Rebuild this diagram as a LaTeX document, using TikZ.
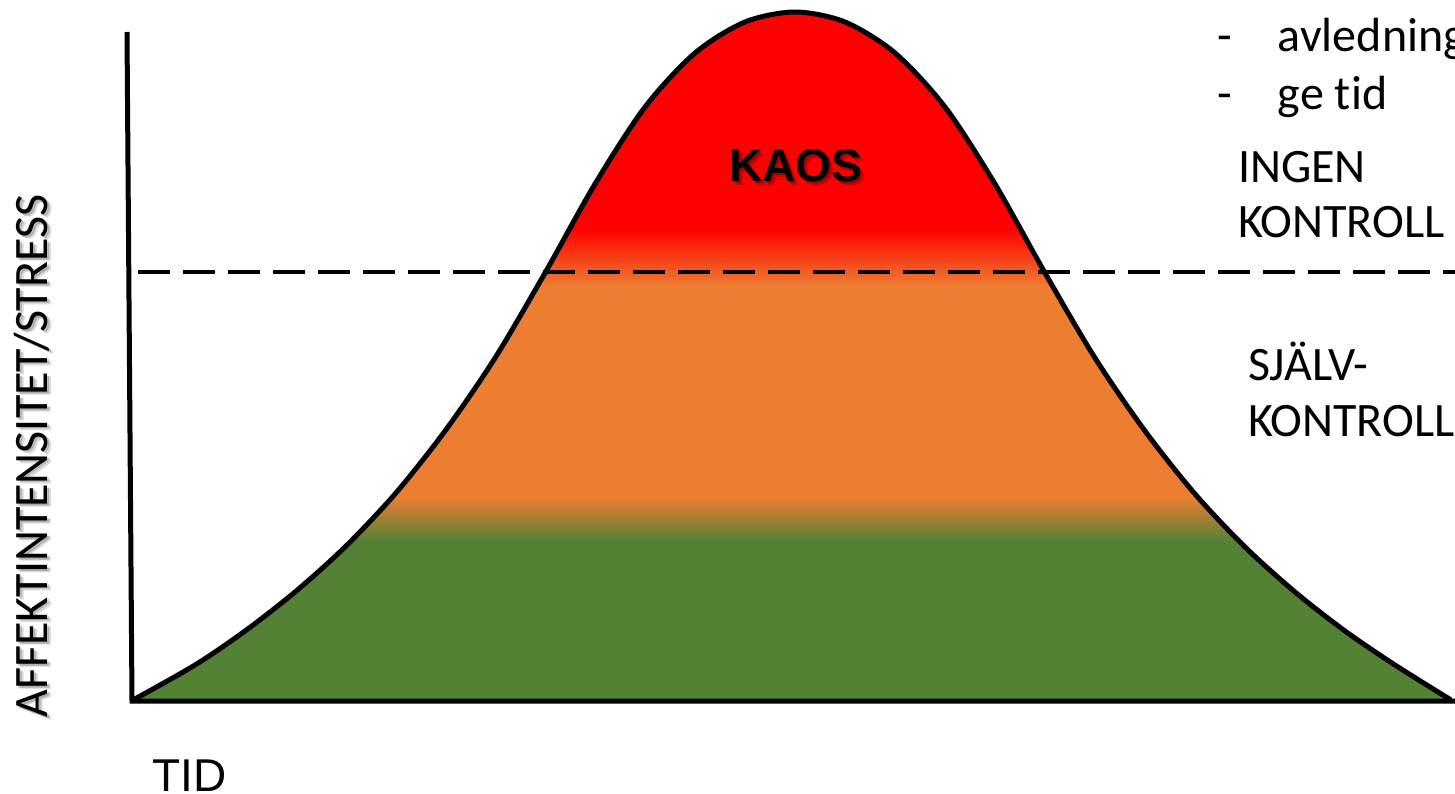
\documentclass[tikz,border=0pt]{standalone}
\usepackage{fontspec}
\setmainfont{Carlito}[Ligatures=NoCommon]
\newfontfamily\arialf{Liberation Sans}
\definecolor{cred}{RGB}{255,0,0}
\definecolor{corange}{RGB}{237,125,49}
\definecolor{cgreen}{RGB}{84,130,53}
\tikzset{
  lbl/.style={inner sep=0pt, outer sep=0pt, font=\fontsize{48}{56}\selectfont, anchor=base west},
  axisline/.style={line width=5pt, line join=miter},
  curveline/.style={line width=5pt, line join=round},
  thresh/.style={line width=3.5pt, dash pattern=on 32pt off 13pt},
  kaosfont/.style={inner sep=0pt, font=\arialf\bfseries\fontsize{46}{55}\selectfont},
  yfont/.style={inner sep=0pt, font=\fontsize{48}{56}\selectfont, rotate=90, anchor=base},
}
\begin{document}
\begin{tikzpicture}[x=1pt,y=-1pt]
\useasboundingbox (0,0) rectangle (1455,794);
% filled bell
\begin{scope}
\clip plot[smooth, tension=0.5] coordinates {(133,700) (195,665) (245,631) (295,592) (345,547) (395,494) (445,431) (495,358) (545,273) (595,184) (645,107) (695,53) (745,22) (795,12) (845,22) (895,53) (945,107) (995,184) (1045,273) (1095,358) (1145,431) (1195,494) (1245,547) (1295,592) (1345,631) (1395,665) (1451,700)} -- cycle;
\fill[cred] (100,0) rectangle (1460,229);
\shade[top color=cred, bottom color=corange] (100,228) rectangle (1460,286);
\fill[corange] (100,285) rectangle (1460,498);
\shade[top color=corange, bottom color=cgreen] (100,497) rectangle (1460,541);
\fill[cgreen] (100,540) rectangle (1460,705);
\end{scope}
\draw[curveline] plot[smooth, tension=0.5] coordinates {(133,700) (195,665) (245,631) (295,592) (345,547) (395,494) (445,431) (495,358) (545,273) (595,184) (645,107) (695,53) (745,22) (795,12) (845,22) (895,53) (945,107) (995,184) (1045,273) (1095,358) (1145,431) (1195,494) (1245,547) (1295,592) (1345,631) (1395,665) (1451,700)};
% axes
\coordinate (ytop) at (127,32);
\coordinate (orig) at (132,701);
\coordinate (xend) at (1458,701);
\draw[axisline] (ytop) -- (orig) -- (xend);
% threshold
\coordinate (dl) at (138,272);
\coordinate (dr) at (1458,272);
\draw[thresh] (dl) -- (dr);
% texts
\node[kaosfont, text=black, opacity=0.18] (kaosshadow2) at (799.5,169.5) {KAOS};
\node[kaosfont, text=black, opacity=0.25] (kaosshadow) at (798,168) {KAOS};
\node[kaosfont] (kaos) at (796,166) {KAOS};
\node[yfont, text=black, opacity=0.15] (yshadow2) at (51,459) {AFFEKTINTENSITET/STRESS};
\node[yfont, text=black, opacity=0.2] (yshadow) at (49.5,457.5) {AFFEKTINTENSITET/STRESS};
\node[yfont] (ylabel) at (47.5,456) {AFFEKTINTENSITET/STRESS};
\node[inner sep=0pt, font=\arialf\fontsize{46}{55}\selectfont, anchor=base west] (tid) at (152,791) {TID};
\node[lbl] (l1) at (1217,52) {\makebox[61pt][l]{-}avledning};
\node[lbl] (l2) at (1217,110) {\makebox[61pt][l]{-}ge tid};
\node[lbl] (ing1) at (1238,183) {INGEN};
\node[lbl] (ing2) at (1238,238) {KONTROLL};
\node[lbl] (sj1) at (1248,380) {SJÄLV-};
\node[lbl] (sj2) at (1248,436) {KONTROLL};
\end{tikzpicture}
\end{document}
